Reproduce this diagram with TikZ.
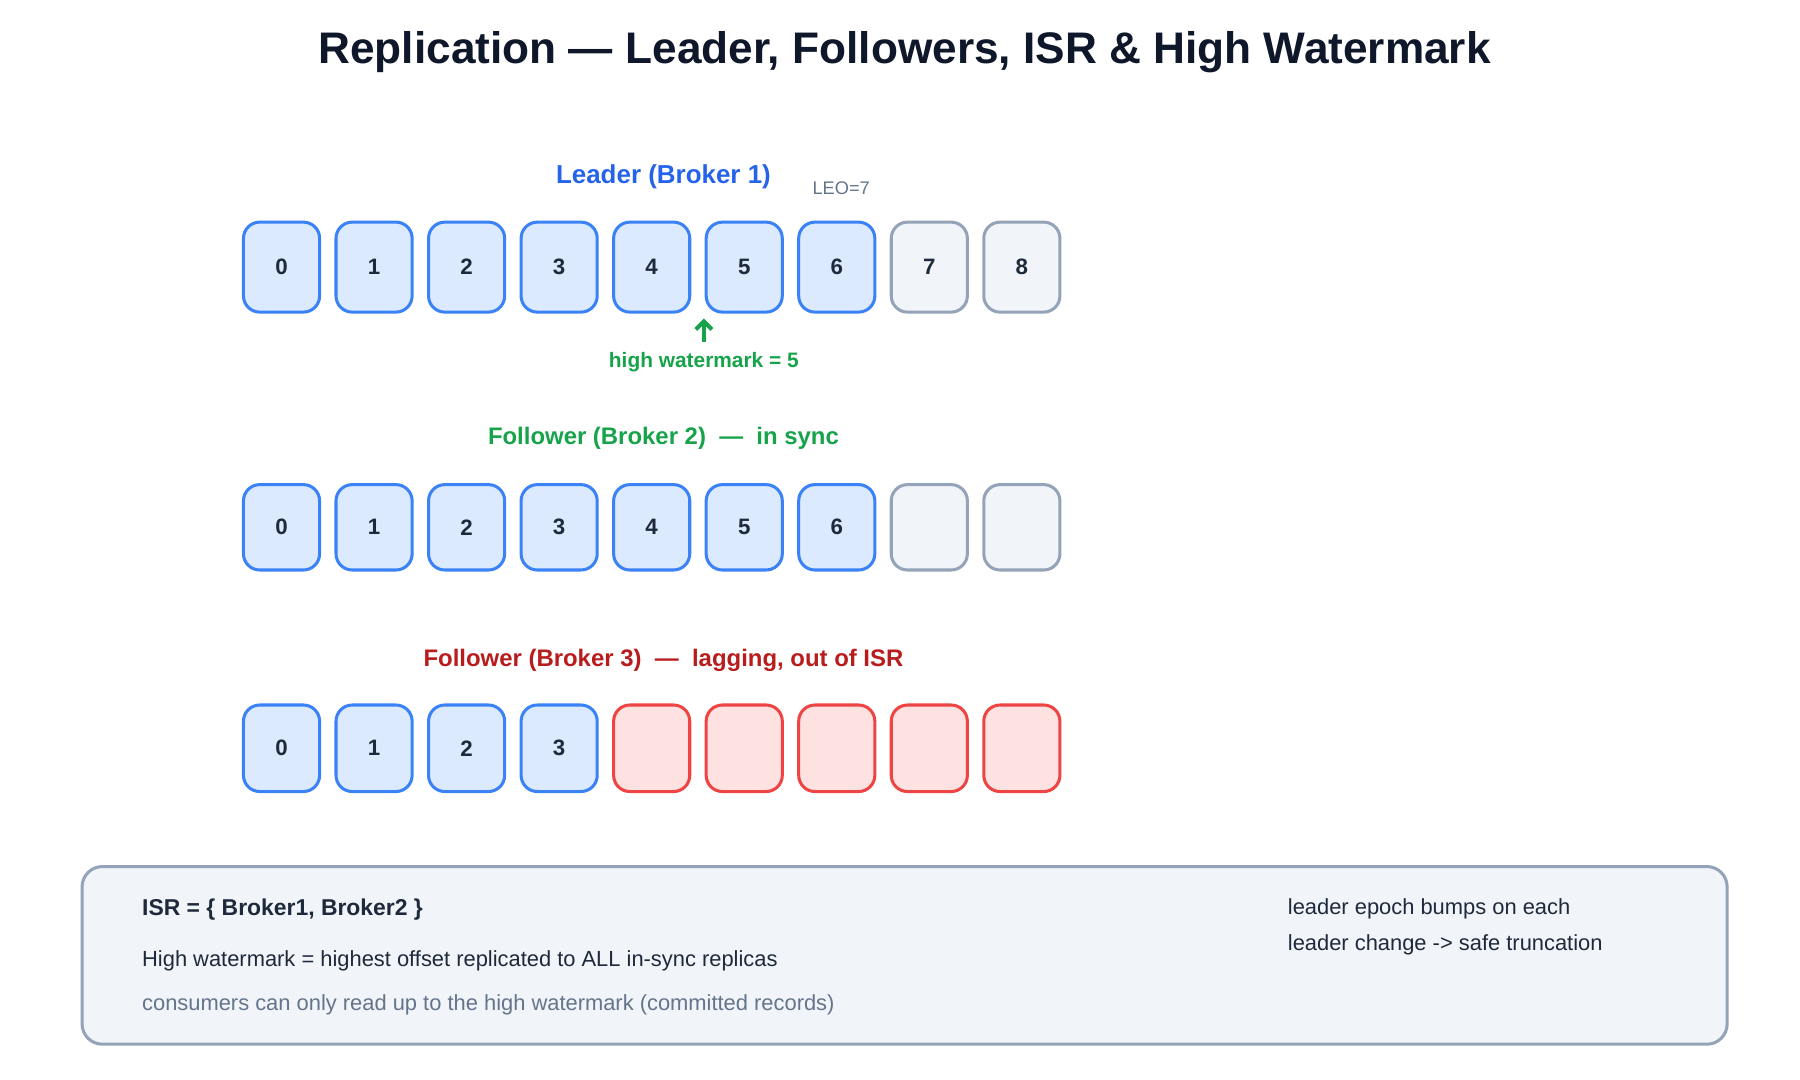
\documentclass[tikz,border=0pt]{standalone}
\usetikzlibrary{arrows.meta}
\usepackage{fontspec}
\setmainfont{Liberation Sans}
\definecolor{bfill}{HTML}{DBEAFE}\definecolor{bdraw}{HTML}{3B82F6}
\definecolor{gfill}{HTML}{F1F5F9}\definecolor{gdraw}{HTML}{94A3B8}
\definecolor{rfill}{HTML}{FEE2E2}\definecolor{rdraw}{HTML}{EF4444}
\definecolor{ink}{HTML}{1E293B}\definecolor{title}{HTML}{0F172A}
\definecolor{lblue}{HTML}{2563EB}\definecolor{lgreen}{HTML}{16A34A}
\definecolor{lred}{HTML}{B91C1C}\definecolor{muted}{HTML}{64748B}
\begin{document}
\begin{tikzpicture}[x=0.02cm,y=-0.02cm,
  cell/.style={rounded corners=8pt,line width=1.5pt,minimum width=1.32cm,inner sep=0pt,
    font=\fontsize{11}{13}\selectfont\bfseries,text=ink},
  blue/.style={cell,fill=bfill,draw=bdraw},
  grey/.style={cell,fill=gfill,draw=gdraw},
  red/.style={cell,fill=rfill,draw=rdraw},
  lab/.style={font=\fontsize{11.8}{14}\selectfont\bfseries},
  txt/.style={anchor=west,font=\fontsize{10.8}{12}\selectfont,text=ink}]
\useasboundingbox (0,0) rectangle (1560,936);
\node[font=\fontsize{21.8}{26}\selectfont\bfseries,text=title] (t) at (784,45) {Replication — Leader, Followers, ISR \& High Watermark};
\node[lab,text=lblue,font=\fontsize{12.8}{15}\selectfont\bfseries] (l1) at (575,153) {Leader (Broker 1)};
\node[font=\fontsize{9}{11}\selectfont,text=muted] (leo) at (729,163) {LEO=7};
\foreach \i in {0,...,8}{
  \pgfmathsetmacro\x{244+80.2*\i}
  \ifnum\i<7 \def\s{blue}\else\def\s{grey}\fi
  \node[\s,minimum height=1.56cm] (a\i) at (\x,231.5) {\i};
  \ifnum\i<7 \node[\s,minimum height=1.48cm] (b\i) at (\x,457) {\i};
  \else \node[\s,minimum height=1.48cm] (b\i) at (\x,457) {}; \fi
  \ifnum\i<4 \node[blue,minimum height=1.5cm] (c\i) at (\x,648.5) {\i};
  \else \node[red,minimum height=1.5cm] (c\i) at (\x,648.5) {}; \fi
}
\coordinate (hw) at (610,296);
\draw[lgreen,line width=2pt,-{Straight Barb[length=4pt]}] (hw) -- (610,276);
\node[lab,text=lgreen,font=\fontsize{10.3}{12}\selectfont\bfseries] (hwl) at (610,314) {high watermark = 5};
\node[lab,text=lgreen] (l2) at (575,380) {Follower (Broker 2)\ \ —\ \ in sync};
\node[lab,text=lred] (l3) at (575,572) {Follower (Broker 3)\ \ —\ \ lagging, out of ISR};
\node[draw=gdraw,fill=gfill,line width=1.5pt,rounded corners=10pt,minimum width=28.52cm,minimum height=3.08cm] (box) at (784,828) {};
\node[txt,font=\fontsize{11.3}{13}\selectfont\bfseries] (i1) at (117,788) {ISR = \{ Broker1, Broker2 \}};
\node[txt] (i2) at (117,833) {High watermark = highest offset replicated to ALL in-sync replicas};
\node[txt,text=muted] (i3) at (117,871) {consumers can only read up to the high watermark (committed records)};
\node[txt] (r1) at (1110,788) {leader epoch bumps on each};
\node[txt] (r2) at (1110,819) {leader change -> safe truncation};
\end{tikzpicture}
\end{document}
